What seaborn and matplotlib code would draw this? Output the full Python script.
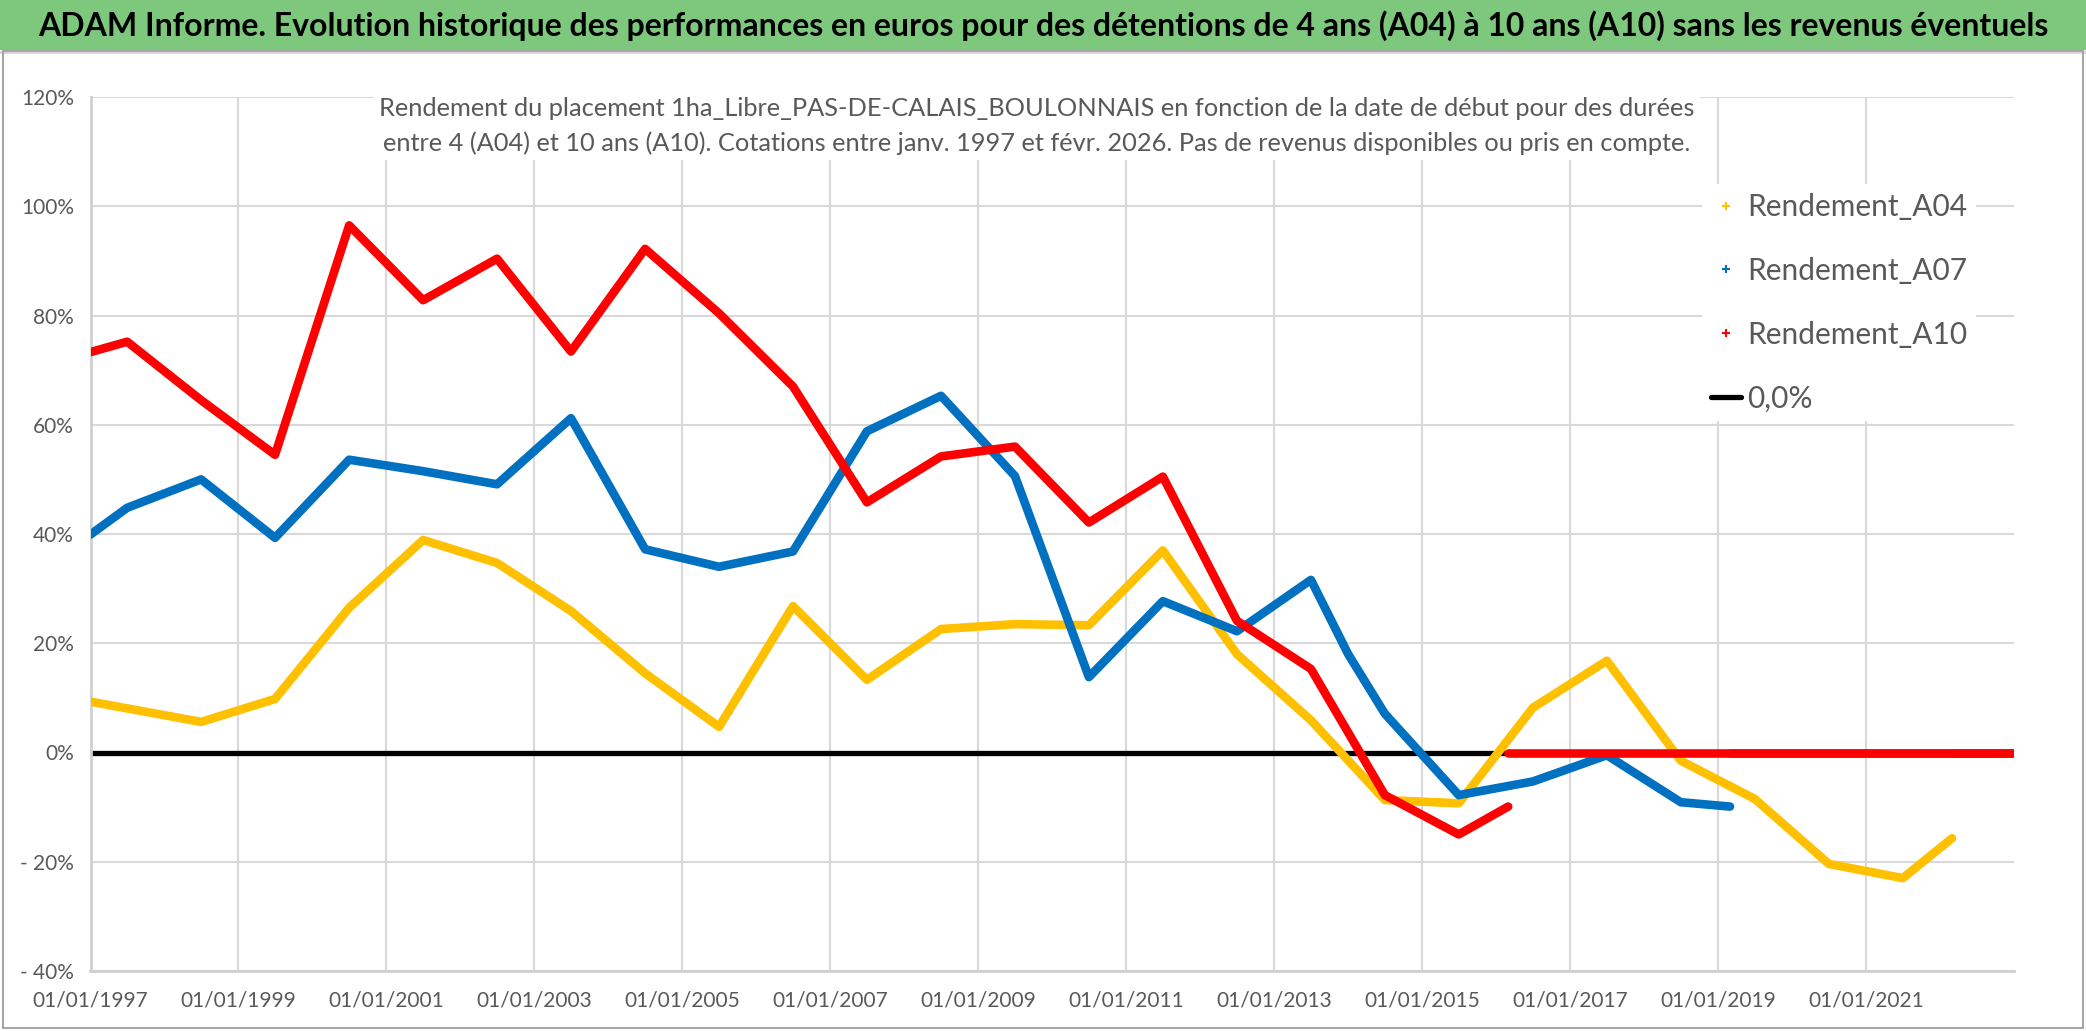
#!/usr/bin/env python3
import matplotlib
matplotlib.use("Agg")
import matplotlib.pyplot as plt
import matplotlib.dates as mdates
import numpy as np
import pandas as pd
import seaborn as sns
from matplotlib.lines import Line2D
from matplotlib.patches import Rectangle

# values (percent)
a04_dates = ["1997-01-01", "1998-07-01", "1999-07-01", "2000-07-01", "2001-07-01", "2002-07-01",
             "2003-07-01", "2004-07-01", "2005-07-01", "2006-07-01", "2007-07-01", "2008-07-01",
             "2009-07-01", "2010-07-01", "2011-07-01", "2012-07-01", "2013-07-01", "2014-07-01",
             "2015-07-01", "2016-07-01", "2017-07-01", "2018-07-01", "2019-07-01", "2020-07-01",
             "2021-07-01", "2022-03-01"]
a04_vals = [9.3, 5.6, 9.8, 26.5, 38.9, 34.7, 25.9, 14.5, 4.7, 26.8, 13.3, 22.6,
            23.5, 23.3, 37.0, 18.0, 5.9, -8.7, -9.3, 8.2, 16.8, -1.5, -8.5, -20.4,
            -23.0, -15.7]

a07_dates = ["1997-01-01", "1997-07-01", "1998-07-01", "1999-07-01", "2000-07-01", "2001-07-01",
             "2002-07-01", "2003-07-01", "2004-07-01", "2005-07-01", "2006-07-01", "2007-07-01",
             "2008-07-01", "2009-07-01", "2010-07-01", "2011-07-01", "2012-07-01", "2013-07-01",
             "2014-01-01", "2014-07-01", "2015-07-01", "2016-07-01", "2017-07-01", "2018-07-01",
             "2019-03-01"]
a07_vals = [39.9, 44.8, 50.0, 39.3, 53.6, 51.5, 49.1, 61.2, 37.2, 34.0, 36.8, 58.8,
            65.3, 50.6, 13.8, 27.7, 22.2, 31.6, 18.0, 7.1, -7.8, -5.3, -0.5, -9.1,
            -9.9]

a10_dates = ["1997-01-01", "1997-07-01", "1998-07-01", "1999-07-01", "2000-07-01", "2001-07-01",
             "2002-07-01", "2003-07-01", "2004-07-01", "2005-07-01", "2006-07-01", "2007-07-01",
             "2008-07-01", "2009-07-01", "2010-07-01", "2011-07-01", "2012-07-01", "2013-07-01",
             "2014-07-01", "2015-07-01", "2016-03-01"]
a10_vals = [73.3, 75.2, 64.5, 54.5, 96.5, 82.8, 90.4, 73.4, 92.2, 80.4, 67.0, 45.8,
            54.2, 56.0, 42.1, 50.5, 24.1, 15.3, -7.8, -15.0, -9.9]

# after the last available start date the sheet plots zeros
tail_end = "2023-01-01"

series_names = ["Rendement_A04", "Rendement_A07", "Rendement_A10"]
series_colors = ["#FFC000", "#0070C0", "#FF0000"]

title = ("ADAM Informe. Evolution historique des performances en euros pour des détentions "
         "de 4 ans (A04) à 10 ans (A10) sans les revenus éventuels")
subtitle = ("Rendement du placement 1ha_Libre_PAS-DE-CALAIS_BOULONNAIS en fonction de la date de début pour des durées\n"
            "entre 4 (A04) et 10 ans (A10). Cotations entre janv. 1997 et févr. 2026. Pas de revenus disponibles ou pris en compte.")

rows = []
for name, dates, vals in zip(series_names, [a04_dates, a07_dates, a10_dates],
                             [a04_vals, a07_vals, a10_vals]):
    for d, v in zip(dates, vals):
        rows.append({"date": d, "value": v, "serie": name, "part": "main"})
    rows.append({"date": dates[-1], "value": 0.0, "serie": name, "part": "tail"})
    rows.append({"date": tail_end, "value": 0.0, "serie": name, "part": "tail"})
df = pd.DataFrame(rows)
df["date"] = pd.to_datetime(df["date"])

sns.set_theme(style="white")
plt.rcParams["font.family"] = ["Lato", "DejaVu Sans"]

W, H = 2086, 1031
fig = plt.figure(figsize=(W / 100, H / 100), dpi=100)
fig.patch.set_facecolor("white")

# green title band
fig.patches.append(Rectangle((0, 1 - 50 / H), 1, 50 / H, transform=fig.transFigure,
                             facecolor="#7DC87D", edgecolor="none", zorder=0))
fig.patches.append(Rectangle((0, 1 - 54 / H), 1, 3 / H, transform=fig.transFigure,
                             facecolor="#D9D9D9", edgecolor="none", zorder=0))
fig.patches.append(Rectangle((0.0015, 0.003), 0.997, 1 - 54 / H, transform=fig.transFigure,
                             facecolor="none", edgecolor="#A6A6A6", lw=1.5, zorder=0))
fig.text(1043 / W, 1 - 26 / H, title, ha="center", va="center", fontsize=23,
         fontweight="bold", color="black")

ax = fig.add_axes([90.5 / W, 60 / H, (2014 - 90.5) / W, (971 - 97) / H])

# zero reference line
ax.plot(pd.to_datetime(["1997-01-01", tail_end]), [0, 0], color="black", lw=3.8,
        zorder=2, solid_capstyle="round")

sns.lineplot(data=df, x="date", y="value", hue="serie", units="part", estimator=None,
             palette=series_colors, hue_order=series_names, lw=6.2, ax=ax,
             legend=False, zorder=3, sort=False)

ax.set_xlim(pd.Timestamp("1997-01-01"), pd.Timestamp(tail_end))
ax.set_ylim(-40, 120)
ticks = pd.to_datetime([f"{y}-01-01" for y in range(1997, 2022, 2)])
ax.set_xticks(ticks)
ax.xaxis.set_major_formatter(mdates.DateFormatter("%d/%m/%Y"))
yt = np.arange(-40, 121, 20)
ax.set_yticks(yt)
ax.set_yticklabels([f"{v}%" if v >= 0 else f"- {abs(v)}%" for v in yt])
ax.grid(True, color="#D9D9D9", lw=1.5)
ax.set_axisbelow(True)
ax.tick_params(axis="both", length=0, colors="#595959", labelsize=15)
ax.tick_params(axis="x", pad=14)
ax.tick_params(axis="y", pad=12)
for s in ["top", "right"]:
    ax.spines[s].set_visible(False)
for s in ["left", "bottom"]:
    ax.spines[s].set_color("#D0D0D0")
    ax.spines[s].set_linewidth(2)
ax.set_xlabel("")
ax.set_ylabel("")

fig.text(1037 / W, 1 - 126 / H, subtitle, ha="center", va="center", fontsize=18.3,
         color="#595959", linespacing=1.55,
         bbox=dict(facecolor="white", edgecolor="none", pad=4))

handles = [Line2D([], [], color=c, marker="+", ls="none", markersize=6, mew=1.5)
           for c in series_colors]
handles.append(Line2D([], [], color="black", lw=3.8))
leg = ax.legend(handles, series_names + ["0,0%"], loc="upper left",
                bbox_to_anchor=(1702 / W, 1 - 184 / H), bbox_transform=fig.transFigure,
                frameon=True, fontsize=21.5, labelcolor="#595959", handlelength=1.0,
                handletextpad=0.2, labelspacing=1.2, borderpad=0.3, borderaxespad=0)
leg.get_frame().set_facecolor("white")
leg.get_frame().set_edgecolor("none")
leg.get_frame().set_alpha(1)
leg.get_frame().set_boxstyle("square", pad=0)

fig.savefig("out.png", dpi=100)
